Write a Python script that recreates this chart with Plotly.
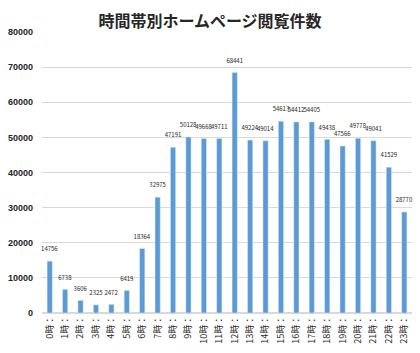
import plotly.graph_objects as go

hours = [f"{h}時：" for h in range(24)]
views = [14756, 6738, 3606, 2325, 2472, 6419, 18364, 32975, 47191, 50128, 49668, 49711,
         68441, 49224, 49014, 54613, 54412, 54405, 49438, 47566, 49778, 49041, 41529, 28770]
y_ticks = [0, 10000, 20000, 30000, 40000, 50000, 60000, 70000, 80000]

fig = go.Figure(go.Bar(
    x=hours, y=views,
    marker_color="#5B9BD5",
    width=0.34,
    text=[f"{v}<br> " for v in views],
    textposition="outside",
    constraintext="none",
    textfont=dict(size=6, color="#262626", family="Noto Sans CJK JP"),
    cliponaxis=False,
))
fig.update_layout(
    width=420, height=353,
    margin=dict(l=38, r=8, t=32, b=40),
    paper_bgcolor="white", plot_bgcolor="white",
    title=dict(text="<b>時間帯別ホームページ閲覧件数</b>", x=0.5, xanchor="center", y=0.955,
               font=dict(size=16, color="#262626", family="Noto Sans CJK JP")),
    showlegend=False,
    font=dict(family="Noto Sans CJK JP"),
)
fig.update_yaxes(range=[0, 80000], tickvals=y_ticks, ticktext=[str(v) for v in y_ticks],
                 showgrid=True, gridcolor="#D9D9D9", gridwidth=1, zeroline=True,
                 zerolinecolor="#D9D9D9", ticks="", ticklen=0,
                 tickfont=dict(size=9, color="#262626", family="Liberation Sans", weight="bold"))
fig.update_yaxes(ticklabelstandoff=8)
fig.update_xaxes(tickangle=-90, showgrid=False, ticks="", showline=False,
                 tickfont=dict(size=9, color="#262626", family="Noto Sans CJK JP"))
fig.write_html("out.html")
